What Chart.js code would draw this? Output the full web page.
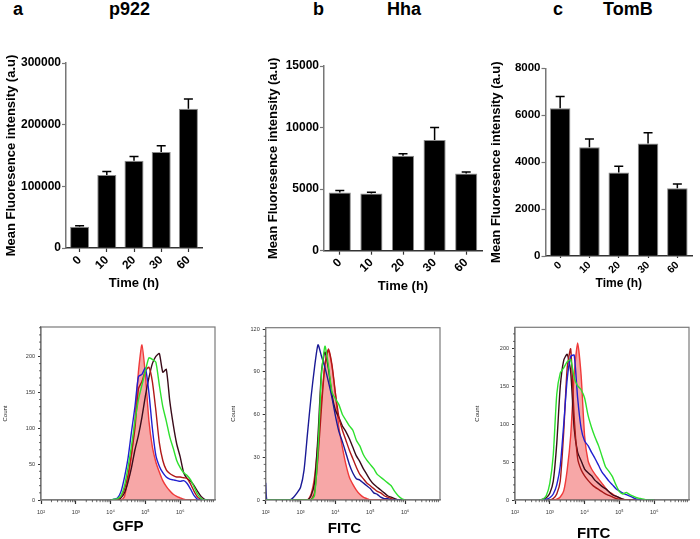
<!DOCTYPE html>
<html><head><meta charset="utf-8">
<script src="https://cdn.jsdelivr.net/npm/chart.js@4.4.1/dist/chart.umd.min.js"></script>
<style>
html,body{margin:0;padding:0;background:#fff;width:700px;height:539px;overflow:hidden;position:relative;font-family:'Liberation Sans',Arial,sans-serif}
.c{position:absolute}
.t{position:absolute;font-weight:bold;font-size:18px;line-height:20px;color:#000;white-space:nowrap}
</style></head><body>
<div class="t" style="left:13px;top:-1px">a</div>
<div class="t" style="left:109px;top:-1px">p922</div>
<div class="t" style="left:313px;top:-1px">b</div>
<div class="t" style="left:387px;top:-1px">Hha</div>
<div class="t" style="left:553px;top:-1px">c</div>
<div class="t" style="left:603px;top:-1px">TomB</div>

<div class="c" style="left:0px;top:30px;width:230px;height:270px"><canvas id="barA"></canvas></div>
<div class="c" style="left:262px;top:30px;width:230px;height:270px"><canvas id="barB"></canvas></div>
<div class="c" style="left:485px;top:30px;width:215px;height:270px"><canvas id="barC"></canvas></div>
<div class="c" style="left:0px;top:310px;width:230px;height:236px"><canvas id="histA"></canvas></div>
<div class="c" style="left:230px;top:310px;width:230px;height:236px"><canvas id="histB"></canvas></div>
<div class="c" style="left:472px;top:310px;width:228px;height:236px"><canvas id="histC"></canvas></div>

<script>
// ---------- data ----------
const timeLabels = ['0','10','20','30','60'];
const p922Mean = [34500,118500,141500,155500,226000];
const p922Err  = [1500,5500,7000,10500,15500];
const hhaMean  = [4720,4640,7720,9000,6260];
const hhaErr   = [160,110,160,1000,140];
const tombMean = [6300,4630,3560,4790,2890];
const tombErr  = [500,360,260,460,180];
const p922Ticks = [0,100000,200000,300000];
const hhaTicks  = [0,5000,10000,15000];
const tombTicks = [0,2000,4000,6000,8000];

const decadeTicks  = [2,3,4,5,6];
const decadeLabels = ['10\u00b2','10\u00b3','10\u2074','10\u2075','10\u2076'];
const countTicksA = [0,50,100,150,200];
const countTicksB = [0,30,60,90,120];
const countTicksC = [0,50,100,150,200];

// histogram A (GFP) – x in log10 units
const gfpX = [4.0,4.1,4.2,4.3,4.4,4.5,4.6,4.7,4.8,4.9,5.0,5.1,5.2,5.3,5.4,5.5,5.6,5.7,5.8,5.9,6.0,6.1,6.2,6.3,6.4,6.5,6.6,6.7,6.8];
const gfpRed     = [0,0,0,0,5,30,62,113,179,216,174,111,74,53,39,27,19,13,8,5,3,1,0,0,0,0,0,0,0];
const gfpBlue    = [0,1,3,12,32,58,95,130,172,175,184,150,100,62,47,38,32,29,28,27,26,27,23,15,6,1,0,0,0];
const gfpGreen   = [0,1,2,6,20,45,75,110,140,160,180,198,196,192,160,130,110,88,72,55,45,38,34,28,18,8,2,0,0];
const gfpDarkRed = [0,0,1,5,15,35,65,100,155,165,180,185,165,125,80,55,42,37,34,32,32,31,30,22,12,4,1,0,0];
const gfpMaroon  = [0,0,0,3,10,25,45,70,90,115,145,170,190,200,204,178,182,138,105,78,60,38,30,26,20,12,5,1,0];

// histogram B (Hha FITC)
const hhaX = [2.0,2.03,2.1,2.2,2.3,2.4,2.5,2.6,2.7,2.8,2.9,3.0,3.1,3.2,3.3,3.4,3.5,3.6,3.7,3.8,3.9,4.0,4.1,4.2,4.3,4.4,4.5,4.6,4.7,4.8,4.9,5.0,5.1,5.2,5.3,5.4,5.5,5.6,5.7,5.8,5.9,6.0];
const hhaBlue    = [12,0,0,0,0,0,0,0,0,2,5, 9,21,47,72,93,109,101,93,83,72, 59,48,41,33,25,19,15,14,12,10, 8,5,4,2,1,1,0,0,0,0, 0];
const hhaGreen   = [0,0,0,0,0,0,0,0,0,0,0, 0,0,0,0,3,35,88,108,94,76, 71,67,60,56,52,49,42,38,32,28, 25,22,18,16,14,12,10,6,3,1, 0];
const hhaRed     = [0,0,0,0,0,0,0,0,0,0,0, 0,0,0,4,16,40,70,96,105,94, 74,51,37,25,16,11,7,4,2,1, 0,0,0,0,0,0,0,0,0,0, 0];
const hhaDarkRed = [0,0,0,0,0,0,0,0,0,0,0, 0,0,0,0,5,30,65,95,106,95, 75,58,49,42,35,29,23,18,15,12, 10,8,6,5,3,2,1,0,0,0, 0];
const hhaMaroon  = [0,0,0,0,0,0,0,0,0,0,0, 0,0,0,3,12,45,90,104,92,74, 63,58,52,48,43,37,31,27,22,18, 14,11,9,7,5,3,2,1,0,0, 0];

// histogram C (TomB FITC)
const tombX = [2.7,2.8,2.9,3.0,3.1,3.2,3.3,3.4,3.5,3.6,3.7,3.8,3.9,4.0,4.1,4.2,4.3,4.4,4.5,4.6,4.7,4.8,4.9,5.0,5.1,5.2,5.3,5.4,5.5,5.6,5.7,5.8,5.9,6.0];
const tombRed     = [0,0,0,0,0,1,4,12,40,85, 165,208,165,85,52,41,34,28,22,16, 11,8,5,3,1,0,0,0,0,0, 0,0,0,0];
const tombBlack   = [0,1,3,9,25,75,150,185,193,170, 95,63,52,41,36,32,26,22,18,15, 11,7,5,3,1,0,0,0,0,0, 0,0,0,0];
const tombDarkRed = [0,0,0,0,2,8,25,90,175,200, 110,55,40,32,26,21,17,14,11,8, 6,4,2,1,0,0,0,0,0,0, 0,0,0,0];
const tombBlue    = [0,0,1,3,8,20,45,100,160,190, 192,135,95,78,72,63,55,46,37,31, 25,20,15,12,9,7,5,3,1,0, 0,0,0,0];
const tombGreen   = [0,1,6,22,60,140,168,175,183,186, 162,151,146,135,112,96,83,72,58,44, 38,31,20,11,8,10,7,5,3,2, 1,0,0,0];

// ---------- helpers ----------
const F = "'Liberation Sans', Arial, sans-serif";

const errPlugin = {
  id: 'errbars',
  afterDatasetsDraw(chart, args, opts) {
    if (!opts || !opts.err) return;
    const meta = chart.getDatasetMeta(0), ys = chart.scales.y, ctx = chart.ctx;
    const vals = chart.data.datasets[0].data;
    ctx.save(); ctx.strokeStyle = '#000'; ctx.lineWidth = 1.5;
    meta.data.forEach((bar, i) => {
      const y0 = ys.getPixelForValue(vals[i]);
      const y1 = ys.getPixelForValue(vals[i] + opts.err[i]);
      ctx.beginPath();
      ctx.moveTo(bar.x, y0); ctx.lineTo(bar.x, y1);
      ctx.moveTo(bar.x - 4.5, y1); ctx.lineTo(bar.x + 4.5, y1);
      ctx.stroke();
    });
    ctx.restore();
  }
};

const decoPlugin = {
  id: 'deco',
  afterDraw(chart, args, opts) {
    if (!opts || !opts.box) return;
    const ctx = chart.ctx, a = chart.chartArea;
    ctx.save();
    ctx.strokeStyle = '#7a7a7a'; ctx.lineWidth = 1.2;
    ctx.strokeRect(a.left, a.top, a.right - a.left, a.bottom - a.top);
    ctx.strokeStyle = '#444'; ctx.lineWidth = 0.8;
    const xs = chart.scales.x, ys = chart.scales.y;
    (opts.minorX || []).forEach(v => {
      const p = xs.getPixelForValue(v);
      ctx.beginPath(); ctx.moveTo(p, a.bottom); ctx.lineTo(p, a.bottom + 2.2); ctx.stroke();
    });
    (opts.minorY || []).forEach(v => {
      const p = ys.getPixelForValue(v);
      ctx.beginPath(); ctx.moveTo(a.left, p); ctx.lineTo(a.left - 2, p); ctx.stroke();
    });
    ctx.restore();
  }
};

function barChart(id, vals, errs, ticks, max, cfg) {
  new Chart(document.getElementById(id), {
    type: 'bar',
    data: { labels: timeLabels, datasets: [{ data: vals, backgroundColor: '#000', borderColor: '#8a8a8a', borderWidth: 1, barPercentage: 0.875, categoryPercentage: 0.8 }] },
    options: {
      responsive: true, maintainAspectRatio: false, animation: false,
      layout: { padding: { top: cfg.top, right: cfg.right, left: 0, bottom: 0 } },
      plugins: { legend: { display: false }, tooltip: { enabled: false }, errbars: { err: errs } },
      scales: {
        x: {
          grid: { display: true, drawOnChartArea: false, offset: false, tickLength: cfg.xtl, color: '#333', tickWidth: 1.2 },
          border: { color: '#333', width: 1.5 },
          ticks: { color: '#000', font: { family: F, size: cfg.xfs, weight: 'bold' }, minRotation: 45, maxRotation: 45, padding: 1 },
          title: { display: true, text: 'Time (h)', color: '#000', font: { family: F, size: cfg.tfs, weight: 'bold' }, padding: { top: 0, bottom: cfg.tpb } },
          afterFit(s) { s.height = cfg.xh; }
        },
        y: {
          min: 0, max: max,
          afterBuildTicks(s) { s.ticks = ticks.map(v => ({ value: v })); },
          ticks: { color: '#000', font: { family: F, size: cfg.yfs, weight: 'bold' }, padding: 1, callback: v => String(v) },
          grid: { drawOnChartArea: false, tickLength: 4, color: '#777', tickWidth: 1.2 },
          border: { color: '#777', width: 1.5 },
          title: { display: true, text: 'Mean Fluoresence intensity (a.u)', color: '#000', font: { family: F, size: 13, weight: 'bold' }, padding: { top: 4, bottom: 0 } },
          afterFit(s) { s.width = cfg.yw; }
        }
      }
    },
    plugins: [errPlugin]
  });
}

const minorX = [];
decadeTicks.forEach(d => { for (let k = 2; k <= 9; k++) minorX.push(d + Math.log10(k)); });

function histChart(id, xs, series, ymax, yTicks, yStep, xTitle, cfg) {
  const minorY = [];
  for (let v = 0; v <= ymax; v += yStep) if (!yTicks.includes(v)) minorY.push(v);
  new Chart(document.getElementById(id), {
    type: 'line',
    data: {
      datasets: series.map(s => ({
        data: xs.map((x, i) => ({ x: x, y: s.data[i] })),
        borderColor: s.color, backgroundColor: s.fill || 'transparent',
        fill: s.fill ? 'origin' : false, borderWidth: 1.4, pointRadius: 0, tension: 0.2
      }))
    },
    options: {
      responsive: true, maintainAspectRatio: false, animation: false,
      layout: { padding: { top: cfg.top, right: cfg.right, left: 0, bottom: 0 } },
      plugins: { legend: { display: false }, tooltip: { enabled: false }, deco: { box: true, minorX: minorX, minorY: minorY } },
      scales: {
        x: {
          type: 'linear', min: 2, max: 7,
          afterBuildTicks(s) { s.ticks = decadeTicks.map(v => ({ value: v })); },
          ticks: { color: '#333', font: { family: F, size: 5.5 }, padding: 5, maxRotation: 0, callback: v => decadeLabels[decadeTicks.indexOf(v)] },
          grid: { drawOnChartArea: false, tickLength: 4, color: '#333', tickWidth: 1.2 },
          border: { color: '#7a7a7a', width: 1.2 },
          title: { display: true, text: xTitle, color: '#000', font: { family: F, size: 15, weight: 'bold' }, padding: { top: 0, bottom: cfg.tpb } },
          afterFit(s) { s.height = cfg.xh; }
        },
        y: {
          min: 0, max: ymax,
          afterBuildTicks(s) { s.ticks = yTicks.map(v => ({ value: v })); },
          ticks: { color: '#333', font: { family: F, size: 5.5 }, padding: 3, callback: v => String(v) },
          grid: { drawOnChartArea: false, tickLength: 3, color: '#333', tickWidth: 1 },
          border: { color: '#7a7a7a', width: 1.2 },
          title: { display: true, text: 'Count', color: '#222', font: { family: F, size: 6 }, padding: { top: cfg.ytp, bottom: 0 } },
          afterFit(s) { s.width = cfg.yw; }
        }
      }
    },
    plugins: [decoPlugin]
  });
}

// ---------- charts ----------
barChart('barA', p922Mean, p922Err, p922Ticks, 300000, { top: 33, right: 28, yw: 66, xh: 52, tpb: 9, xfs: 12, yfs: 12, tfs: 13, xtl: 4 });
barChart('barB', hhaMean, hhaErr, hhaTicks, 15000, { top: 36, right: 10, yw: 62, xh: 49.3, tpb: 5.5, xfs: 12, yfs: 12, tfs: 13, xtl: 4 });
barChart('barC', tombMean, tombErr, tombTicks, 8000, { top: 38.3, right: 8, yw: 60.5, xh: 44, tpb: 9, xfs: 10.5, yfs: 11.5, tfs: 12, xtl: 2 });

const RED_FILL = 'rgba(240,80,80,0.5)';
histChart('histA', gfpX, [
  { data: gfpGreen, color: '#2ee02e' },
  { data: gfpBlue, color: '#2020d0' },
  { data: gfpDarkRed, color: '#b01818' },
  { data: gfpMaroon, color: '#3a0c1a' },
  { data: gfpRed, color: '#f03a3a', fill: RED_FILL }
], 241, countTicksA, 10, 'GFP', { top: 17, right: 15, yw: 41, xh: 46, tpb: 10, ytp: 1.5 });

histChart('histB', hhaX, [
  { data: hhaGreen, color: '#2ee02e' },
  { data: hhaBlue, color: '#1a1a96' },
  { data: hhaDarkRed, color: '#b01818' },
  { data: hhaMaroon, color: '#3a0c1a' },
  { data: hhaRed, color: '#f03a3a', fill: RED_FILL }
], 121, countTicksB, 5, 'FITC    ', { top: 17.7, right: 20, yw: 35.7, xh: 46, tpb: 8, ytp: 0 });

histChart('histC', tombX, [
  { data: tombGreen, color: '#2ee02e' },
  { data: tombBlue, color: '#2020d0' },
  { data: tombDarkRed, color: '#a81818' },
  { data: tombBlack, color: '#3a0c1a' },
  { data: tombRed, color: '#f03a3a', fill: RED_FILL }
], 228.7, countTicksC, 10, 'FITC    ', { top: 17.3, right: 11, yw: 43, xh: 46, tpb: 3, ytp: 1.5 });
</script>
</body></html>
